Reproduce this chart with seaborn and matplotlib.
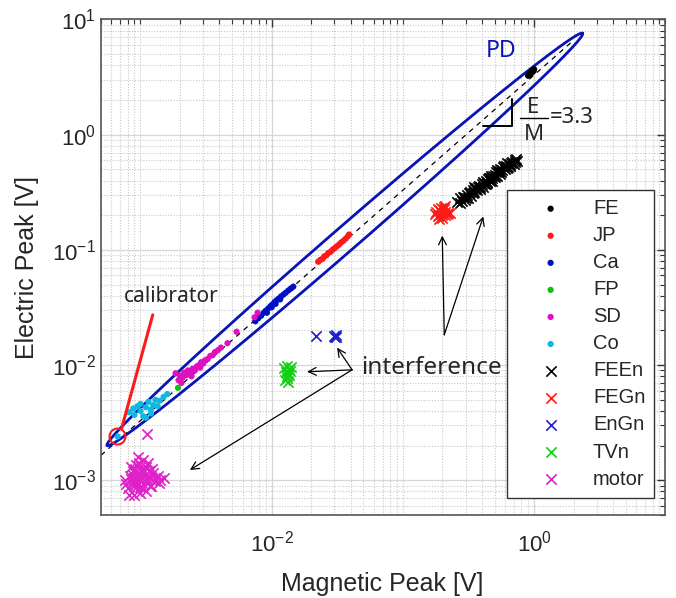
import numpy as np
import pandas as pd
import seaborn as sns
import matplotlib.pyplot as plt
from matplotlib.ticker import FixedLocator, LogLocator, NullFormatter, LogFormatterSciNotation

# values: magnetic peak M [V], electric peak E [V]
FE_M = [0.90, 0.91, 0.92, 0.93, 0.94, 0.95, 0.96, 0.97, 0.98, 0.99, 1.00, 0.93, 0.95, 0.97]
FE_E = [3.25, 3.30, 3.35, 3.32, 3.45, 3.42, 3.55, 3.50, 3.62, 3.58, 3.70, 3.40, 3.48, 3.60]

JP_M = [0.0226, 0.0235, 0.0245, 0.0252, 0.0262, 0.0270, 0.0280, 0.0290, 0.0300, 0.0312,
        0.0325, 0.0338, 0.0352, 0.0366, 0.0380, 0.0389]
JP_E = [0.079, 0.082, 0.084, 0.088, 0.090, 0.094, 0.096, 0.100, 0.103, 0.107,
        0.111, 0.116, 0.120, 0.125, 0.131, 0.136]

Ca_M = [0.0075, 0.0079, 0.0083, 0.0087, 0.0090, 0.0094, 0.0098, 0.0101, 0.0105, 0.0109,
        0.0113, 0.0118, 0.0123, 0.0128, 0.0134, 0.0140, 0.0146, 0.0092, 0.0100, 0.0107, 0.0116]
Ca_E = [0.0240, 0.0255, 0.0268, 0.0285, 0.0296, 0.0310, 0.0325, 0.0335, 0.0352, 0.0365,
        0.0378, 0.0395, 0.0410, 0.0425, 0.0445, 0.0462, 0.0480, 0.0285, 0.0318, 0.0340, 0.0372]

FP_M = [1.93e-3]
FP_E = [6.35e-3]

SD_M = [1.85e-3, 1.95e-3, 2.0e-3, 2.1e-3, 2.15e-3, 2.25e-3, 2.3e-3, 2.4e-3, 2.5e-3, 2.6e-3,
        2.7e-3, 2.8e-3, 2.9e-3, 3.0e-3, 3.1e-3, 3.25e-3, 3.4e-3, 3.55e-3, 3.7e-3, 3.9e-3,
        4.1e-3, 4.6e-3, 5.4e-3, 7.4e-3, 7.8e-3, 2.05e-3, 2.45e-3, 2.85e-3]
SD_E = [8.5e-3, 7.4e-3, 8.1e-3, 7.8e-3, 8.6e-3, 8.2e-3, 9.0e-3, 8.7e-3, 9.3e-3, 9.0e-3,
        9.8e-3, 1.0e-2, 1.06e-2, 1.03e-2, 1.1e-2, 1.13e-2, 1.2e-2, 1.22e-2, 1.3e-2, 1.35e-2,
        1.42e-2, 1.55e-2, 1.95e-2, 2.6e-2, 2.85e-2, 7.0e-3, 8.0e-3, 9.5e-3]

Co_M = [6.7e-4, 8.2e-4, 8.8e-4, 9.0e-4, 9.5e-4, 1.0e-3, 1.0e-3, 1.05e-3, 1.1e-3, 1.15e-3,
        1.2e-3, 1.25e-3, 1.3e-3, 1.35e-3, 1.4e-3, 1.5e-3, 1.6e-3, 1.2e-3, 1.1e-3]
Co_E = [2.4e-3, 3.9e-3, 4.2e-3, 3.7e-3, 4.4e-3, 4.0e-3, 4.6e-3, 3.6e-3, 4.3e-3, 4.8e-3,
        4.1e-3, 4.5e-3, 5.0e-3, 4.4e-3, 4.9e-3, 5.3e-3, 5.6e-3, 3.8e-3, 3.5e-3]

FEEn_M = [0.26, 0.27, 0.28, 0.29, 0.30, 0.31, 0.32, 0.33, 0.34, 0.35, 0.36, 0.37, 0.38, 0.39,
          0.40, 0.41, 0.42, 0.43, 0.44, 0.45, 0.46, 0.47, 0.48, 0.50, 0.51, 0.52, 0.54, 0.55,
          0.56, 0.58, 0.60, 0.61, 0.63, 0.64, 0.66, 0.68, 0.70, 0.72, 0.74, 0.35, 0.43, 0.52, 0.62,
          0.27, 0.285, 0.295, 0.315, 0.325, 0.345, 0.355, 0.375, 0.385, 0.405, 0.415, 0.435, 0.445,
          0.465, 0.475, 0.49, 0.505, 0.53, 0.545, 0.57, 0.59, 0.62, 0.65, 0.67, 0.71, 0.73]
FEEn_E = [0.26, 0.28, 0.265, 0.29, 0.28, 0.30, 0.31, 0.295, 0.33, 0.32, 0.345, 0.33, 0.36, 0.35,
          0.37, 0.39, 0.37, 0.40, 0.39, 0.42, 0.40, 0.44, 0.42, 0.45, 0.47, 0.44, 0.48, 0.50,
          0.47, 0.52, 0.50, 0.54, 0.52, 0.56, 0.55, 0.58, 0.56, 0.60, 0.59, 0.35, 0.37, 0.49, 0.57,
          0.255, 0.29, 0.27, 0.285, 0.32, 0.31, 0.34, 0.35, 0.335, 0.35, 0.38, 0.38, 0.41,
          0.42, 0.40, 0.44, 0.43, 0.47, 0.46, 0.49, 0.53, 0.51, 0.54, 0.57, 0.58, 0.61]

FEGn_M = [0.175, 0.18, 0.185, 0.19, 0.19, 0.195, 0.2, 0.2, 0.205, 0.21, 0.21, 0.215, 0.22,
          0.185, 0.195, 0.205, 0.2, 0.19, 0.21, 0.23]
FEGn_E = [0.205, 0.215, 0.195, 0.22, 0.2, 0.23, 0.21, 0.19, 0.225, 0.2, 0.215, 0.205, 0.21,
          0.225, 0.215, 0.235, 0.2, 0.185, 0.24, 0.21]

EnGn_M = [0.0218, 0.0300, 0.0305, 0.0310, 0.0308]
EnGn_E = [0.0178, 0.0180, 0.0175, 0.0182, 0.0177]

TVn_M = [0.0125, 0.013, 0.0135, 0.014, 0.0128, 0.0133, 0.0138, 0.013, 0.0136, 0.0127, 0.0134, 0.0131]
TVn_E = [0.0095, 0.0098, 0.0093, 0.0096, 0.0088, 0.0085, 0.0089, 0.0080, 0.0082, 0.0074, 0.0071, 0.0077]

motor_M = [7.6e-4, 8.0e-4, 8.3e-4, 8.6e-4, 8.8e-4, 9.0e-4, 9.2e-4, 9.4e-4, 9.6e-4, 9.8e-4,
           1.0e-3, 1.02e-3, 1.05e-3, 1.08e-3, 1.1e-3, 1.13e-3, 1.16e-3, 1.2e-3, 1.25e-3, 1.3e-3,
           1.35e-3, 1.42e-3, 1.5e-3, 8.5e-4, 9.5e-4, 1.05e-3, 1.15e-3, 9.0e-4, 1.0e-3, 1.1e-3,
           1.2e-3, 8.2e-4, 9.3e-4, 1.03e-3, 1.12e-3, 7.8e-4, 8.4e-4, 8.9e-4, 9.1e-4, 9.7e-4,
           1.01e-3, 1.04e-3, 1.07e-3, 1.14e-3, 1.22e-3, 1.28e-3, 1.38e-3, 8.7e-4, 9.9e-4, 1.18e-3,
           1.12e-3]
motor_E = [1.0e-3, 8.5e-4, 1.1e-3, 9.5e-4, 1.2e-3, 1.05e-3, 1.35e-3, 9.0e-4, 1.15e-3, 1.4e-3,
           1.0e-3, 1.25e-3, 1.5e-3, 1.1e-3, 1.3e-3, 9.5e-4, 1.2e-3, 1.05e-3, 1.15e-3, 9.8e-4,
           1.1e-3, 1.0e-3, 1.05e-3, 1.3e-3, 1.6e-3, 8.5e-4, 1.4e-3, 7.5e-4, 7.8e-4, 8.0e-4,
           9.0e-4, 7.4e-4, 9.7e-4, 1.18e-3, 1.0e-3, 9.2e-4, 1.02e-3, 9.0e-4, 1.25e-3, 1.05e-3,
           1.32e-3, 9.2e-4, 1.2e-3, 1.08e-3, 1.25e-3, 1.05e-3, 9.5e-4, 1.12e-3, 8.7e-4, 9.0e-4,
           2.5e-3]

# E/M reference line and PD envelope
ratio = 3.3
line_M = [5e-4, 2.0]
env_lo = [5.56e-4, 2.0e-3]
env_hi = [2.34, 7.6]
env_halfwidth = 0.1  # decades

series = [
    ("FE", FE_M, FE_E, "o", "black"),
    ("JP", JP_M, JP_E, "o", "#ff1a1a"),
    ("Ca", Ca_M, Ca_E, "o", "#0010c0"),
    ("FP", FP_M, FP_E, "o", "#10c010"),
    ("SD", SD_M, SD_E, "o", "#e010c0"),
    ("Co", Co_M, Co_E, "o", "#10b8e0"),
    ("FEEn", FEEn_M, FEEn_E, "x", "black"),
    ("FEGn", FEGn_M, FEGn_E, "x", "#ff1a1a"),
    ("EnGn", EnGn_M, EnGn_E, "x", "#2020d0"),
    ("TVn", TVn_M, TVn_E, "x", "#10d010"),
    ("motor", motor_M, motor_E, "x", "#e020c8"),
]

df = pd.concat([pd.DataFrame({"M": m, "E": e, "source": name}) for name, m, e, _, _ in series])

sns.set_theme(style="white")
plt.rcParams["font.family"] = ["Liberation Sans", "DejaVu Sans"]
plt.rcParams["mathtext.fontset"] = "custom"
plt.rcParams["mathtext.rm"] = "Liberation Sans"

fig = plt.figure(figsize=(6.76, 5.98), dpi=100)
ax = fig.add_axes([0.1494, 0.1388, 0.8348, 0.8286])
ax.set_xscale("log")
ax.set_yscale("log")

pd_blue = "#0a14b4"

# PD envelope (ellipse in log-log space)
p0 = np.log10(env_lo)
p1 = np.log10(env_hi)
c = (p0 + p1) / 2
d = p1 - p0
a = np.hypot(*d) / 2
u = d / np.hypot(*d)
v = np.array([-u[1], u[0]])
t = np.linspace(0, 2 * np.pi, 500)
pts = c[:, None] + a * np.cos(t) * u[:, None] + env_halfwidth * np.sin(t) * v[:, None]
ax.plot(10 ** pts[0], 10 ** pts[1], color=pd_blue, lw=2, zorder=3)

# E/M = 3.3 line
ax.plot(line_M, [ratio * m for m in line_M], color="black", ls=(0, (4, 4)), lw=0.9, zorder=2)

for name, m, e, mk, col in series:
    sub = df[df["source"] == name]
    if mk == "o":
        sns.scatterplot(data=sub, x="M", y="E", ax=ax, marker="o", s=20, color=col,
                        edgecolor="none", label=name, zorder=4)
    else:
        sns.scatterplot(data=sub, x="M", y="E", ax=ax, marker="x", s=55, color=col,
                        linewidth=1.2, label=name, zorder=4)

ax.set_xlim(5e-4, 10)
ax.set_ylim(5e-4, 10)

# ticks & grid (matlab-like)
ax.xaxis.set_major_locator(FixedLocator([1e-2, 1e0]))
ax.xaxis.set_major_formatter(LogFormatterSciNotation())
ax.xaxis.set_minor_locator(LogLocator(base=10, subs=np.arange(1, 10), numticks=100))
ax.xaxis.set_minor_formatter(NullFormatter())
ax.yaxis.set_major_locator(LogLocator(base=10, numticks=100))
ax.yaxis.set_minor_locator(LogLocator(base=10, subs=np.arange(2, 10), numticks=100))
ax.yaxis.set_minor_formatter(NullFormatter())
ax.tick_params(which="both", direction="in", top=True, right=True, colors="#333333",
               labelcolor="#262626")
ax.tick_params(which="major", length=6, width=1, labelsize=16)
ax.tick_params(which="minor", length=3.5, width=0.8)
ax.tick_params(axis="x", which="major", pad=11)
ax.grid(True, which="major", color="#d6d6d6", lw=0.9, ls="-")
ax.grid(True, which="minor", color="#c8c8c8", lw=0.8, ls=(0, (1, 1.5)))
ax.set_axisbelow(True)
for sp in ax.spines.values():
    sp.set_color("#555555")
    sp.set_linewidth(1.2)

ax.set_xlabel("Magnetic Peak [V]", fontsize=18, color="#262626")
ax.set_ylabel("Electric Peak [V]", fontsize=18, color="#262626")
ax.xaxis.set_label_coords(0.498, -0.115)
ax.yaxis.set_label_coords(-0.11, 0.5)

leg = ax.legend(loc="upper left", bbox_to_anchor=(0.72, 0.656), borderaxespad=0,
                fontsize=14.5, frameon=True, fancybox=False, edgecolor="#333333",
                framealpha=1, handlelength=3.4, handletextpad=0.4, labelspacing=0.4,
                borderpad=0.45, scatterpoints=1)
leg.get_frame().set_linewidth(1.0)
leg.set_zorder(6)

# annotations
note = ["Noto Sans", "DejaVu Sans"]
ax.text(0.562, 5.3, "PD", color=pd_blue, fontsize=16.5, family=note, ha="center", va="center")
ax.text(7.46e-4, 0.0393, "calibrator", fontsize=15, family=note, ha="left", va="center")
ax.text(0.048, 9.5e-3, "interference", fontsize=17.5, family=note, ha="left", va="center")

# calibrator marker
ax.plot([6.6e-4], [2.43e-3], marker="o", ms=11.5, mfc="none", mec="#ff1a1a", mew=1.5, zorder=5)
ax.plot([7.2e-4, 1.24e-3], [2.85e-3, 0.0273], color="#ff1a1a", lw=2.2, zorder=5)

# slope marker E/M
ax.plot([0.408, 0.682, 0.682], [1.19, 1.19, 2.03], color="black", lw=1.4, zorder=5)
ax.text(0.99, 1.73, "E", fontsize=16, family=note, ha="center", va="center")
ax.text(0.99, 1.0, "M", fontsize=16, family=note, ha="center", va="center")
ax.plot([0.786, 1.285], [1.41, 1.41], color="black", lw=1.0, zorder=5)
ax.text(1.31, 1.41, "=3.3", fontsize=16, family=note, ha="left", va="center")

arrow = dict(arrowstyle="->", lw=0.9, color="black", mutation_scale=14, shrinkA=0, shrinkB=0)
start_a = (0.041, 9.1e-3)
for head in [(0.0186, 8.75e-3), (0.0315, 0.01417), (2.38e-3, 1.23e-3)]:
    ax.annotate("", xy=head, xytext=start_a, arrowprops=arrow)
start_b = (0.2066, 0.0183)
for head in [(0.1995, 0.133), (0.41, 0.195)]:
    ax.annotate("", xy=head, xytext=start_b, arrowprops=arrow)

fig.savefig("out.png", dpi=100)
